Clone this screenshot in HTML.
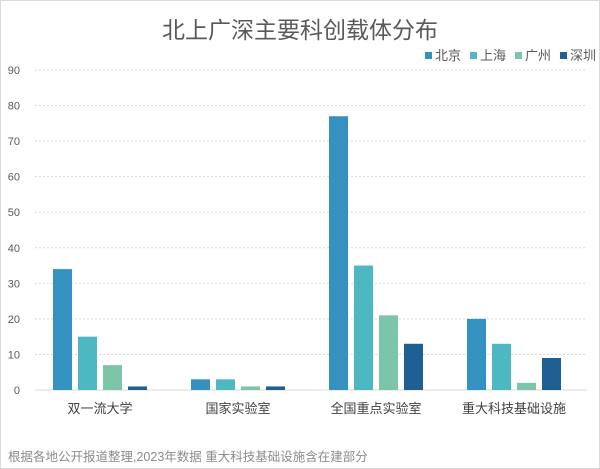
<!DOCTYPE html>
<html><head><meta charset="utf-8"><style>
body{margin:0;background:#fff;font-family:"Liberation Sans","Noto Sans CJK SC",sans-serif;}
#wrap{position:relative;width:598px;height:467px;background:#fff;overflow:hidden;border:1px solid #d9d9d9}
svg{position:absolute;left:-1px;top:-1px}
svg text{font-family:"Liberation Sans","Noto Sans CJK SC",sans-serif;}
</style></head><body>
<div id="wrap">
<svg id="svg" width="600" height="469">
<text x="300" y="38" text-anchor="middle" font-size="23" fill="#595959">北上广深主要科创载体分布</text>
<text x="8" y="461" font-size="12.5" fill="#8c8c8c">根据各地公开报道整理,2023年数据 重大科技基础设施含在建部分</text>
<g id="legend"></g>
<g id="grid"></g><g id="bars"></g><g id="labels"></g>
</svg>
</div>
<script>
const categories=["双一流大学","国家实验室","全国重点实验室","重大科技基础设施"];
const seriesNames=["北京","上海","广州","深圳"];
const beijing=[34,3,77,20];
const shanghai=[15,3,35,13];
const guangzhou=[7,1,21,2];
const shenzhen=[1,1,13,9];
const yTicks=[0,10,20,30,40,50,60,70,80,90];
const series=[beijing,shanghai,guangzhou,shenzhen];
const colors=["#3592c0","#4db8c2","#7cc5a9","#1f5f92"];
const NS="http://www.w3.org/2000/svg";
const x0=35,x1=587,yBase=390,yTop=70,yMax=90;
const y=v=>yBase-(v/yMax)*(yBase-yTop);
const gw=(x1-x0)/categories.length;
function mk(t,a,p){const e=document.createElementNS(NS,t);for(const k in a)e.setAttribute(k,a[k]);p.appendChild(e);return e;}
const grid=document.getElementById('grid');
yTicks.forEach(t=>{
  if(t>0){const l=mk('line',{x1:x0,x2:x1,y1:y(t),y2:y(t),stroke:'#d9d9d9','stroke-dasharray':'2,2'},grid);
  
  }
  const tx=mk('text',{x:20,y:y(t)+4,'text-anchor':'end','font-size':11,fill:'#595959'},grid);
  tx.textContent=t;
  
  
});
const ax=mk('line',{x1:x0,x2:x1,y1:yBase,y2:yBase,stroke:'#d9d9d9'},grid);


const bars=document.getElementById('bars');
categories.forEach((c,i)=>{
  const gx=x0+i*gw;
  series.forEach((s,j)=>{
    const bx=gx+18+j*25;
    const r=mk('rect',{x:bx,y:y(s[i]),width:19,height:yBase-y(s[i]),fill:colors[j]},bars);
    
    
  });
  const t=mk('text',{x:gx+65,y:413,'text-anchor':'middle','font-size':13,fill:'#404040'},document.getElementById('labels'));
  t.textContent=c;
  
  
});
const lg=document.getElementById('legend');
const lx=[425,470,515,560];
seriesNames.forEach((n,j)=>{
  const r=mk('rect',{x:lx[j],y:52,width:7,height:7,fill:colors[j]},lg);
  
  
  const t=mk('text',{x:lx[j]+10,y:60,'font-size':13,fill:'#595959'},lg);
  t.textContent=n;
  
  
});
</script>
</body></html>
